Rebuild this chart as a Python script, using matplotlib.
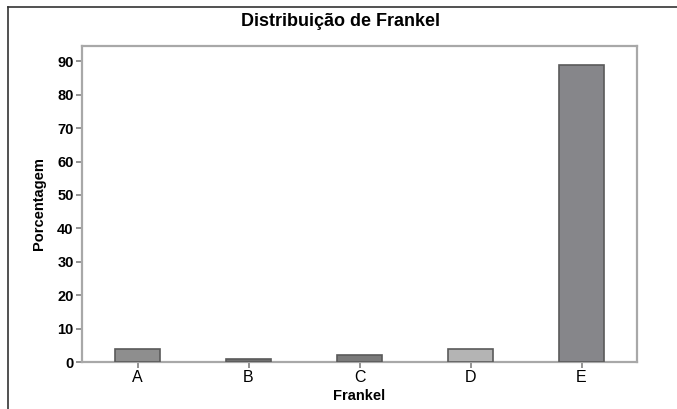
import matplotlib
matplotlib.use("Agg")
import matplotlib.pyplot as plt
from matplotlib.lines import Line2D

categories = ["A", "B", "C", "D", "E"]
values = [4, 1, 2, 4, 89]
colors = ["#8e8e8e", "#707070", "#7a7a7a", "#b4b4b4", "#86868a"]
yticks = [0, 10, 20, 30, 40, 50, 60, 70, 80, 90]

plt.rcParams['font.family'] = ['Liberation Sans', 'DejaVu Sans']

fig = plt.figure(figsize=(6.77, 4.09), dpi=100)
ax = fig.add_axes([82/677, 1-362/409, 555/677, 316/409])

x = list(range(len(categories)))
ax.bar(x, values, width=0.4, color=colors, edgecolor="#5a5a5a", linewidth=1.2, zorder=3)
ax.set_xlim(-0.5, 4.5)
ax.set_ylim(0, 94.6)
ax.set_yticks(yticks)
ax.set_yticklabels([str(t) for t in yticks], fontweight="bold", fontsize=10.5)
ax.set_xticks(x)
ax.set_xticklabels(categories, fontsize=11.5)
for s in ax.spines.values():
    s.set_color("#a8a8a8")
    s.set_linewidth(1.6)
ax.tick_params(axis="both", color="#808080", length=4, width=1.2, pad=2)
ax.set_xlabel("Frankel", fontweight="bold", fontsize=10.5, labelpad=3)
ax.set_ylabel("Porcentagem", fontweight="bold", fontsize=10.5, labelpad=8)
fig.text(340/677, 1-22/409, "Distribuição de Frankel", ha="center", va="center",
         fontweight="bold", fontsize=13)

fig.add_artist(Line2D([8/677, 1.0], [1-7/409, 1-7/409], transform=fig.transFigure, color="#333333", linewidth=1.2))
fig.add_artist(Line2D([8/677, 8/677], [0, 1-7/409], transform=fig.transFigure, color="#333333", linewidth=1.2))

fig.savefig("out.png", dpi=100)
